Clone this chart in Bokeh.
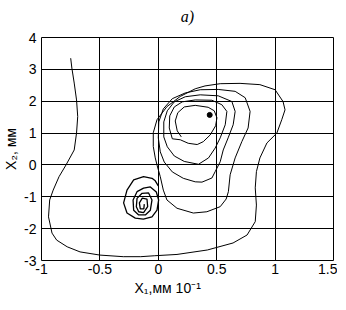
from bokeh.plotting import figure
from bokeh.models import FixedTicker, Title
from bokeh.embed import file_html
from bokeh.resources import INLINE

# ---- data ----
# main trajectory: big outer loop, then nested loops spiralling to the upper focus
traj_x = [-0.75, -0.74, -0.72, -0.70, -0.69, -0.70, -0.72, -0.79, -0.85, -0.90,
          -0.93, -0.94, -0.91, -0.87, -0.78, -0.67, -0.50, -0.30, -0.15, -0.03,
          0.16, 0.42, 0.64, 0.76, 0.83, 0.84, 0.83, 0.84, 0.87, 0.93,
          1.015, 1.057, 1.085, 1.068, 1.00, 0.87, 0.70, 0.53, 0.40, 0.316,
          0.188, 0.074, -0.011, -0.043, -0.043, -0.026,
          -0.009, 0.017, 0.043, 0.074, 0.16, 0.30, 0.416, 0.53, 0.581, 0.60,
          0.615, 0.658, 0.715, 0.769, 0.786, 0.744, 0.658, 0.513, 0.359, 0.231,
          0.12, 0.043, 0.004, 0.0, 0.017,
          0.051, 0.12, 0.214, 0.316, 0.374, 0.459, 0.487, 0.53, 0.556, 0.598,
          0.641, 0.658, 0.63, 0.513, 0.359, 0.231, 0.137, 0.077, 0.047, 0.047,
          0.077, 0.137, 0.222, 0.344, 0.43, 0.487, 0.53, 0.573, 0.587, 0.544,
          0.459, 0.316, 0.205, 0.137, 0.098, 0.094, 0.12,
          0.188, 0.256, 0.333, 0.385, 0.444, 0.491, 0.502, 0.479, 0.427, 0.316,
          0.222, 0.167, 0.145, 0.162, 0.197]
traj_y = [3.35, 3.04, 2.57, 2.04, 1.52, 1.00, 0.47, 0.0, -0.37, -0.79,
          -1.10, -1.63, -2.14, -2.36, -2.57, -2.73, -2.83, -2.88, -2.88, -2.85,
          -2.81, -2.67, -2.45, -2.20, -1.78, -1.26, -0.72, -0.21, 0.22, 0.69,
          1.00, 1.42, 1.73, 1.99, 2.36, 2.52, 2.56, 2.55, 2.48, 2.39,
          2.15, 1.83, 1.42, 1.01, 0.58, 0.22,
          -0.03, -0.37, -0.79, -1.10, -1.36, -1.51, -1.47, -1.31, -1.07, -0.84,
          -0.31, 0.22, 0.73, 1.16, 1.68, 2.11, 2.31, 2.37, 2.36, 2.26,
          2.08, 1.76, 1.35, 0.85, 0.41,
          0.09, -0.22, -0.42, -0.53, -0.54, -0.41, -0.21, 0.10, 0.47, 0.85,
          1.26, 1.68, 1.99, 2.17, 2.20, 2.14, 1.98, 1.70, 1.35, 0.88,
          0.57, 0.28, 0.11, 0.02, 0.22, 0.53, 0.85, 1.26, 1.68, 1.89,
          2.03, 2.04, 1.98, 1.82, 1.54, 1.16, 0.82,
          0.79, 0.68, 0.64, 0.73, 0.94, 1.23, 1.48, 1.70, 1.81, 1.87,
          1.82, 1.64, 1.38, 1.07, 0.88]

# second trajectory: spiral around the lower focus
spiral_x = [0.0, -0.026, -0.054, -0.126, -0.211, -0.268, -0.297, -0.268, -0.197, -0.128,
            -0.054, -0.011, 0.003, -0.017, -0.068, -0.126, -0.182, -0.216, -0.211, -0.168,
            -0.111, -0.068, -0.054, -0.083, -0.139, -0.182, -0.188, -0.168, -0.126, -0.091,
            -0.097, -0.137, -0.162, -0.154, -0.124, -0.12]
spiral_y = [-0.66, -0.50, -0.42, -0.37, -0.47, -0.79, -1.19, -1.51, -1.67, -1.70,
            -1.63, -1.42, -1.10, -0.85, -0.69, -0.73, -0.84, -1.10, -1.42, -1.57,
            -1.57, -1.42, -1.10, -0.88, -0.89, -1.05, -1.31, -1.47, -1.50, -1.31,
            -1.07, -1.04, -1.19, -1.38, -1.38, -1.23]

# equilibrium point (upper focus)
eq_x = [0.44]
eq_y = [1.57]

x_ticks = [-1, -0.5, 0, 0.5, 1, 1.5]
x_tick_labels = ["-1", "-0.5", "0", "0.5", "1", "1.5"]
y_ticks = [-3, -2, -1, 0, 1, 2, 3, 4]
y_tick_labels = ["-3", "-2", "-1", "0", "1", "2", "3", "4"]

FONT = "Liberation Sans"

p = figure(frame_width=292, frame_height=223, output_backend="svg", toolbar_location=None,
           x_range=(-1, 1.5), y_range=(-3, 4),
           min_border_left=34, min_border_right=4, min_border_top=37, min_border_bottom=44)

# invisible spacer between the frame and the panel title
spacer = Title(text=" ", text_font_size="5px", text_color="white", standoff=0)
p.add_layout(spacer, "above")
ttl = Title(text="a)", align="center", offset=-4,
            text_font="Liberation Serif", text_font_style="italic",
            text_font_size="16px", text_color="black")
p.add_layout(ttl, "above")

p.outline_line_color = "black"
p.outline_line_width = 1
p.background_fill_color = "white"
p.border_fill_color = "white"

p.xaxis.ticker = FixedTicker(ticks=x_ticks)
p.xaxis.major_label_overrides = dict(zip(x_ticks, x_tick_labels))
p.yaxis.ticker = FixedTicker(ticks=y_ticks)
p.yaxis.major_label_overrides = dict(zip(y_ticks, y_tick_labels))

for ax in (p.xaxis, p.yaxis):
    ax.axis_line_color = None
    ax.major_tick_line_color = None
    ax.minor_tick_line_color = None
    ax.major_tick_out = 0
    ax.major_tick_in = 0
    ax.major_label_text_font = FONT
    ax.major_label_text_font_size = "14px"
    ax.major_label_text_color = "black"
    ax.axis_label_text_font = FONT
    ax.axis_label_text_font_style = "normal"
    ax.axis_label_text_font_size = "14px"
    ax.axis_label_text_color = "black"

p.xaxis.major_label_standoff = 3
p.yaxis.major_label_standoff = 5
p.yaxis.axis_label = "X\u2082, мм"
p.yaxis.axis_label_standoff = 2

xlab = Title(text="X\u2081,мм 10\u207b\u00b9", align="left", offset=93,
             text_font=FONT, text_font_size="14px", text_font_style="normal",
             text_color="black", standoff=2)
p.add_layout(xlab, "below")

p.grid.grid_line_color = "black"
p.grid.grid_line_width = 1
p.grid.grid_line_alpha = 1

p.line(traj_x, traj_y, line_color="black", line_width=1)
p.line(spiral_x, spiral_y, line_color="black", line_width=1.3)
p.scatter(eq_x, eq_y, size=5, color="black")

open("out.html", "w").write(file_html(p, INLINE))
